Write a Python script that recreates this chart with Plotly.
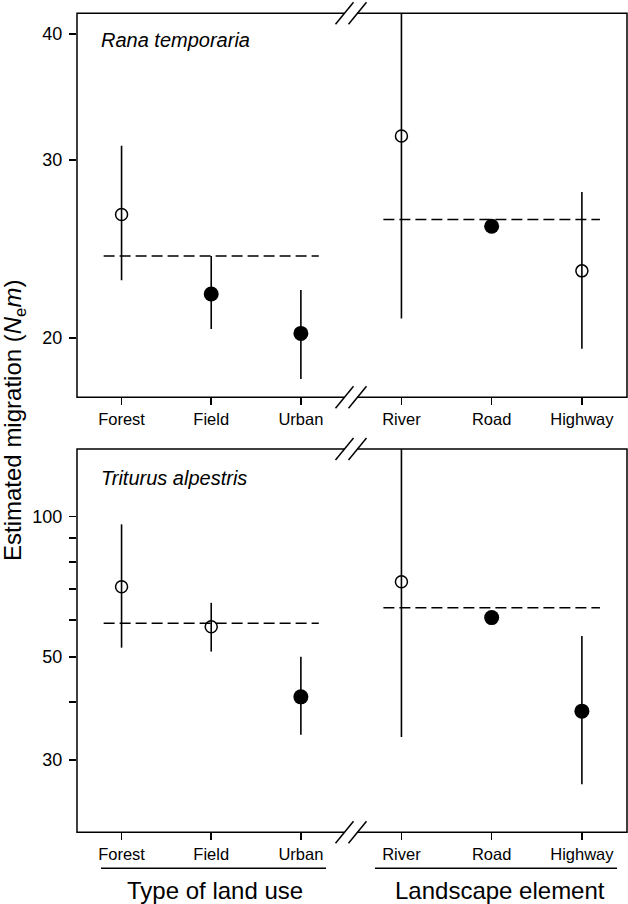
import plotly.graph_objects as go

# ---------------- data ----------------
land_use = ["Forest", "Field", "Urban"]
landscape = ["River", "Road", "Highway"]

rana_mean = [26.5, 22.1, 20.2, 31.7, 25.8, 23.3]
rana_upper = [31.0, 24.1, 22.3, 48.0, 26.1, 27.9]
rana_lower = [22.8, 20.4, 18.2, 20.9, 25.5, 19.5]
rana_filled = [False, True, True, False, True, False]
rana_ref = [24.1, 26.2]          # dashed reference level: land use, landscape

trit_mean = [70.7, 58.0, 41.0, 72.5, 60.7, 38.2]
trit_upper = [96.3, 65.3, 50.0, 200.0, 61.5, 55.4]
trit_lower = [52.3, 51.3, 34.0, 33.6, 60.0, 26.6]
trit_filled = [False, False, True, False, True, True]
trit_ref = [59.0, 63.7]

rana_ticks = [20, 30, 40]
trit_ticks = [30, 50, 100]
trit_minor = [40, 60, 70, 80, 90]

W, H = 628, 904
FONT = "Liberation Sans, Arial, sans-serif"

def px(x):
    return x / W

def py(y):
    return 1 - y / H

fig = go.Figure()

# panel geometry (window pixels)
LEFT, BREAK, RIGHT = 77, 351, 627
panels = [
    dict(top=13.3, bot=397.3, xl="x", xr="x2", y="y",
         mean=rana_mean, up=rana_upper, lo=rana_lower, filled=rana_filled, ref=rana_ref),
    dict(top=449.0, bot=832.3, xl="x3", xr="x4", y="y2",
         mean=trit_mean, up=trit_upper, lo=trit_lower, filled=trit_filled, ref=trit_ref),
]

for p in panels:
    for half, xa in enumerate([p["xl"], p["xr"]]):
        sl = slice(3 * half, 3 * half + 3)
        m = p["mean"][sl]
        u = p["up"][sl]
        l = p["lo"][sl]
        f = p["filled"][sl]
        idx = [0, 1, 2]
        # dashed reference line
        fig.add_trace(go.Scatter(
            x=[-0.2, 2.2], y=[p["ref"][half]] * 2, mode="lines",
            line=dict(color="black", width=1.5, dash="11px,5px"),
            xaxis=xa, yaxis=p["y"], showlegend=False, hoverinfo="skip"))
        # error bars + markers
        for filled in (True, False):
            sel = [i for i in idx if f[i] == filled]
            if not sel:
                continue
            fig.add_trace(go.Scatter(
                x=sel, y=[m[i] for i in sel], mode="markers",
                marker=dict(
                    symbol="circle" if filled else "circle-open",
                    size=15 if filled else 12,
                    color="black",
                    line=dict(width=0 if filled else 1.5, color="black")),
                error_y=dict(type="data", symmetric=False,
                             array=[u[i] - m[i] for i in sel],
                             arrayminus=[m[i] - l[i] for i in sel],
                             width=0, thickness=1.6, color="black"),
                xaxis=xa, yaxis=p["y"], showlegend=False))

xcommon = dict(tickmode="array", tickvals=[0, 1, 2], ticks="outside", ticklen=7,
               tickwidth=1.5, tickcolor="black", showgrid=False, zeroline=False,
               showline=False, tickfont=dict(family=FONT, size=16.5, color="black"),
               fixedrange=True)

layout = dict(
    width=W, height=H, margin=dict(l=0, r=0, t=0, b=0),
    plot_bgcolor="white", paper_bgcolor="white", showlegend=False,
    font=dict(family=FONT, color="black"),
)

def ydom(p):
    return [py(p["bot"]), py(p["top"])]

xl_dom = [px(LEFT), px(BREAK)]
xr_dom = [px(BREAK), px(RIGHT)]

layout["xaxis"] = dict(xcommon, domain=xl_dom, anchor="y", range=[-0.497, 2.559], ticktext=land_use)
layout["xaxis2"] = dict(xcommon, domain=xr_dom, anchor="y", range=[-0.559, 2.5], ticktext=landscape)
layout["xaxis3"] = dict(xcommon, domain=xl_dom, anchor="y2", range=[-0.497, 2.559], ticktext=land_use)
layout["xaxis4"] = dict(xcommon, domain=xr_dom, anchor="y2", range=[-0.559, 2.5], ticktext=landscape)

ycommon = dict(type="log", ticks="outside", ticklen=7, tickwidth=1.5, tickcolor="black",
               showgrid=False, zeroline=False, showline=False, tickmode="array",
               ticklabelstandoff=3,
               tickfont=dict(family=FONT, size=18, color="black"), fixedrange=True)
layout["yaxis"] = dict(ycommon, domain=ydom(panels[0]), anchor="x",
                       range=[1.242, 1.6227], tickvals=rana_ticks,
                       ticktext=[str(v) for v in rana_ticks])
layout["yaxis2"] = dict(ycommon, domain=ydom(panels[1]), anchor="x3",
                        range=[1.3216, 2.1456], tickvals=trit_ticks,
                        ticktext=[str(v) for v in trit_ticks],
                        minor=dict(tickmode="array", tickvals=trit_minor, ticks="outside",
                                   ticklen=7, tickwidth=1.5, tickcolor="black", showgrid=False))

shapes = []
for p in panels:
    shapes.append(dict(type="rect", xref="paper", yref="paper",
                       x0=px(LEFT), x1=px(RIGHT), y0=py(p["bot"]), y1=py(p["top"]),
                       line=dict(color="black", width=1.5), fillcolor="rgba(0,0,0,0)",
                       layer="above"))
    for yb in (p["top"], p["bot"]):
        # white gap in the border between the break marks
        shapes.append(dict(type="rect", xref="paper", yref="paper",
                           xsizemode="pixel", ysizemode="pixel",
                           xanchor=px(BREAK), yanchor=py(yb),
                           x0=-6.5, x1=6.5, y0=-2.5, y1=2.5,
                           line=dict(width=0), fillcolor="white", layer="above"))
        for dx in (-6.5, 6.5):
            shapes.append(dict(type="line", xref="paper", yref="paper",
                               xsizemode="pixel", ysizemode="pixel",
                               xanchor=px(BREAK), yanchor=py(yb),
                               x0=dx - 9, x1=dx + 9, y0=-11, y1=11,
                               line=dict(color="black", width=1.5), layer="above"))

# underlines for group titles
shapes.append(dict(type="line", xref="paper", yref="paper", x0=px(101), x1=px(326),
                   y0=py(868.3), y1=py(868.3), line=dict(color="black", width=1.5)))
shapes.append(dict(type="line", xref="paper", yref="paper", x0=px(375), x1=px(617),
                   y0=py(868.3), y1=py(868.3), line=dict(color="black", width=1.5)))
layout["shapes"] = shapes

annotations = [
    dict(text="<i>Rana temporaria</i>", x=px(99), y=py(40), xref="paper", yref="paper",
         xanchor="left", yanchor="middle", showarrow=False, font=dict(size=20)),
    dict(text="<i>Triturus alpestris</i>", x=px(99), y=py(478), xref="paper", yref="paper",
         xanchor="left", yanchor="middle", showarrow=False, font=dict(size=20)),
    dict(text="Type of land use", x=px(214.5), y=py(890), xref="paper", yref="paper",
         xanchor="center", yanchor="middle", showarrow=False, font=dict(size=24)),
    dict(text="Landscape element", x=px(500), y=py(890), xref="paper", yref="paper",
         xanchor="center", yanchor="middle", showarrow=False, font=dict(size=24)),
    dict(text="Estimated migration (<i>N</i><sub>e</sub><i>m</i>)", x=px(14), y=py(421),
         xref="paper", yref="paper", xanchor="center", yanchor="middle", textangle=-90,
         showarrow=False, font=dict(size=24)),
]
layout["annotations"] = annotations

fig.update_layout(**layout)
fig.write_html(
    "out.html",
    config={"displayModeBar": False, "staticPlot": True},
    post_script="document.body.style.margin='0';document.body.style.padding='0';"
                "document.body.style.overflow='hidden';",
)
